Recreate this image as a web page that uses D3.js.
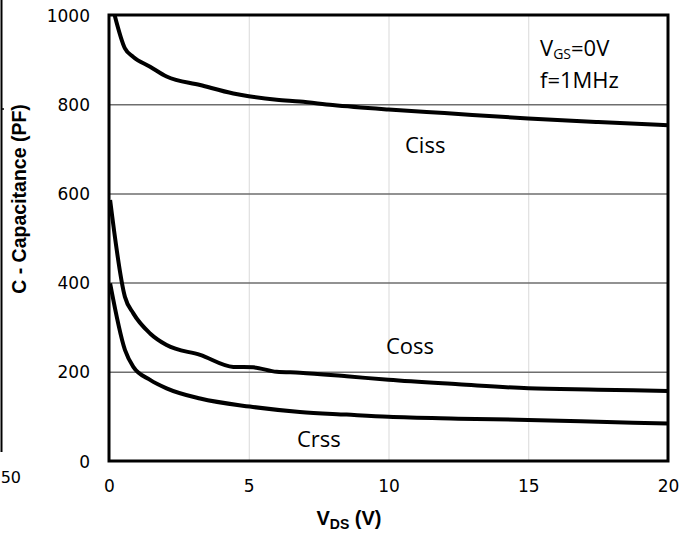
<!DOCTYPE html>
<html>
<head>
<meta charset="utf-8">
<script src="https://cdn.jsdelivr.net/npm/d3@7"></script>
<style>
  html, body { margin: 0; padding: 0; background: #fff; }
  svg { display: block; }
</style>
</head>
<body>
<svg id="chart" width="696" height="539"></svg>
<script>
// Capacitance vs drain-source voltage
const xTicks = [0, 5, 10, 15, 20];
const yTicks = [0, 200, 400, 600, 800, 1000];

const cissV = [0.2, 0.57, 0.87, 1.47, 2.06, 3.26, 4.45, 5, 6, 6.83, 8, 10, 12, 15, 17.5, 20];
const cissC = [1000, 925, 906, 884, 862, 843, 824, 818, 810, 806, 798, 788, 780, 768, 760, 753];

const cossV = [0.04, 0.57, 0.87, 1.47, 2.06, 3.26, 4.45, 5.16, 6.0, 6.83, 8.5, 10, 12.5, 15, 17.5, 20];
const cossC = [585, 368, 331, 286, 260, 238, 211, 210, 200, 198, 190, 182, 172, 163, 160, 157];

const crssV = [0.04, 0.57, 0.87, 1.47, 2.06, 3.26, 5.04, 6.83, 8.5, 10, 12.5, 15, 17.5, 20];
const crssC = [398, 249, 211, 182, 163, 140, 122, 110, 104, 99, 95, 92, 88, 84];

const seriesLabels = ["Ciss", "Coss", "Crss"];

const svg = d3.select("#chart");
const plotL = 109, plotR = 668, plotT = 15, plotB = 461;

const x = d3.scaleLinear().domain([0, 20]).range([plotL, plotR]);
const y = d3.scaleLinear().domain([0, 1000]).range([plotB, plotT]);

const tickFont = "DejaVu Sans, Verdana, sans-serif";
const noteFont = "'Open Sans', Calibri, sans-serif";
const titleFont = "'Liberation Sans', Arial, sans-serif";

// Fragment of the neighbouring panel's axis at the far left
svg.append("line").attr("x1", 1.5).attr("x2", 1.5).attr("y1", 0).attr("y2", 452)
  .attr("stroke", "#000").attr("stroke-width", 2);
svg.append("line").attr("x1", 1.5).attr("x2", 4).attr("y1", 109).attr("y2", 109)
  .attr("stroke", "#000").attr("stroke-width", 1.5);
svg.append("text").attr("x", 21).attr("y", 483).attr("text-anchor", "end")
  .attr("font-family", tickFont).attr("font-size", 16).attr("fill", "#000").text("50");

// Vertical gridlines (light)
svg.append("g")
  .attr("transform", `translate(0,${plotB})`)
  .call(d3.axisBottom(x).tickValues(xTicks.slice(1, -1)).tickSize(-(plotB - plotT)).tickFormat(""))
  .call(g => g.select(".domain").remove())
  .call(g => g.selectAll("line").attr("stroke", "#d9d9d9").attr("stroke-width", 1));

// Horizontal gridlines (dark)
svg.append("g")
  .attr("transform", `translate(${plotL},0)`)
  .call(d3.axisLeft(y).tickValues(yTicks.slice(1, -1)).tickSize(-(plotR - plotL)).tickFormat(""))
  .call(g => g.select(".domain").remove())
  .call(g => g.selectAll("line").attr("stroke", "#6e6e6e").attr("stroke-width", 1.5));

// Curves
const line = d3.line()
  .x(d => x(d[0]))
  .y(d => y(d[1]))
  .curve(d3.curveMonotoneX);

const series = [
  d3.zip(cissV, cissC),
  d3.zip(cossV, cossC),
  d3.zip(crssV, crssC)
];

svg.append("g").selectAll("path")
  .data(series)
  .join("path")
  .attr("d", line)
  .attr("fill", "none")
  .attr("stroke", "#000")
  .attr("stroke-width", 4)
  .attr("stroke-linejoin", "round")
  .attr("stroke-linecap", "butt");

// Plot frame
svg.append("rect")
  .attr("x", plotL).attr("y", plotT)
  .attr("width", plotR - plotL).attr("height", plotB - plotT)
  .attr("fill", "none").attr("stroke", "#000").attr("stroke-width", 3);

// Y tick labels
const yAxis = svg.append("g")
  .attr("transform", `translate(${plotL - 19},0)`)
  .call(d3.axisLeft(y).tickValues(yTicks).tickFormat(d3.format("d")).tickSize(0).tickPadding(0))
  .call(g => g.select(".domain").remove());
yAxis.selectAll("text")
  .attr("font-family", tickFont).attr("font-size", 17).attr("fill", "#000")
  .attr("dy", "0.36em");

// X tick labels
const xAxis = svg.append("g")
  .attr("transform", `translate(0,${plotB})`)
  .call(d3.axisBottom(x).tickValues(xTicks).tickFormat(d3.format("d")).tickSize(0).tickPadding(0))
  .call(g => g.select(".domain").remove());
xAxis.selectAll("text")
  .attr("font-family", tickFont).attr("font-size", 17).attr("fill", "#000")
  .attr("dy", null).attr("y", 31);

// Axis titles
svg.append("text")
  .attr("transform", "translate(26,199) rotate(-90)")
  .attr("text-anchor", "middle")
  .attr("font-family", titleFont).attr("font-weight", "bold").attr("font-size", 19.5)
  .text("C - Capacitance (PF)");

const xt = svg.append("text")
  .attr("x", 349).attr("y", 525)
  .attr("text-anchor", "middle")
  .attr("font-family", titleFont).attr("font-weight", "bold").attr("font-size", 20);
xt.append("tspan").text("V");
xt.append("tspan").attr("font-size", 14).attr("dy", 4).text("DS");
xt.append("tspan").attr("dy", -4).text(" (V)");

// Test conditions
const cond = svg.append("g").attr("font-family", noteFont).attr("font-size", 22).attr("fill", "#000");
const vgs = cond.append("text").attr("x", 540).attr("y", 56);
vgs.append("tspan").text("V");
vgs.append("tspan").attr("font-size", 14).attr("dy", 3).text("GS");
vgs.append("tspan").attr("dy", -3).text("=0V");
cond.append("text").attr("x", 540).attr("y", 88).text("f=1MHz");

// Series labels
const labelPos = [[405, 153], [386, 354], [297, 447]];
svg.append("g").selectAll("text")
  .data(seriesLabels)
  .join("text")
  .attr("x", (d, i) => labelPos[i][0])
  .attr("y", (d, i) => labelPos[i][1])
  .attr("font-family", noteFont).attr("font-size", 22).attr("fill", "#000")
  .text(d => d);
</script>
</body>
</html>
